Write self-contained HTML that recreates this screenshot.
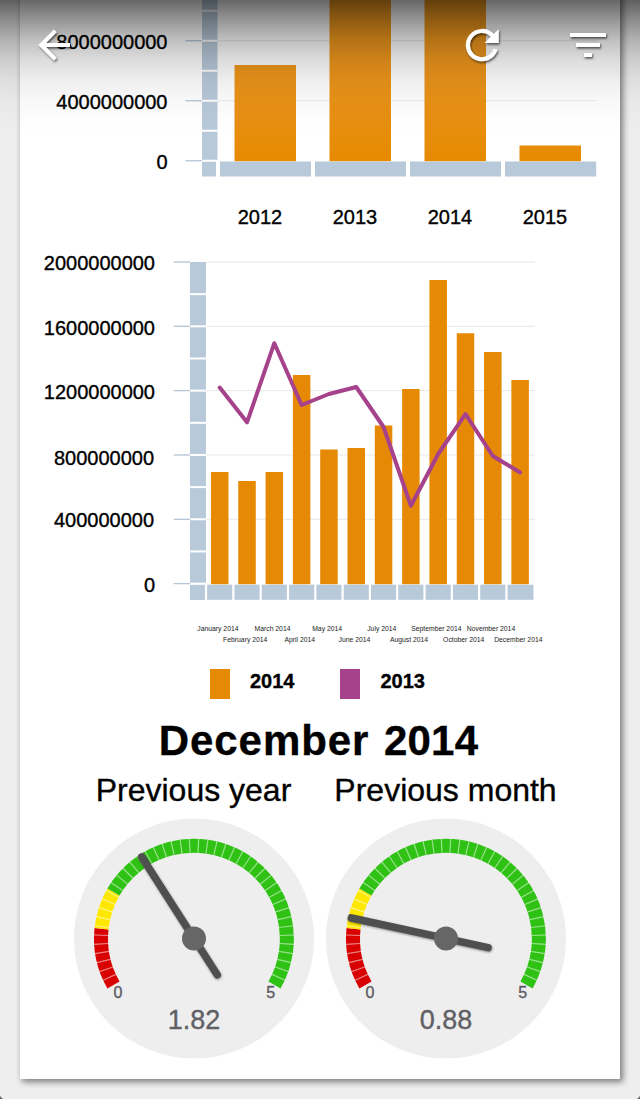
<!DOCTYPE html>
<html><head><meta charset="utf-8"><title>Dashboard</title>
<style>
html,body{margin:0;padding:0;}
body{width:640px;height:1099px;background:#eeeeee;overflow:hidden;position:relative;font-family:"Liberation Sans", sans-serif;}
.card{position:absolute;left:20px;top:-20px;width:600px;height:1099px;background:#fff;box-shadow:2.5px 2.5px 6px rgba(0,0,0,.48);border-radius:1px;}
svg{position:absolute;left:0;top:0;font-family:"Liberation Sans", sans-serif;}
svg text{stroke-width:0.35px;paint-order:stroke;}
svg text.k{stroke:#000;}
svg text.g{stroke:#5a5a60;}
.shade{position:absolute;left:0;top:0;width:640px;height:150px;background:linear-gradient(to bottom,rgba(0,0,0,.60) 0px,rgba(0,0,0,.41) 20px,rgba(0,0,0,.25) 40px,rgba(0,0,0,.137) 60px,rgba(0,0,0,.067) 80px,rgba(0,0,0,.027) 100px,rgba(0,0,0,.007) 120px,rgba(0,0,0,0) 136px);}
.cr{position:absolute;right:0;bottom:0;width:0;height:0;border-left:3px solid transparent;border-bottom:3px solid #6a6a6a;}
.cl{position:absolute;left:0;bottom:0;width:0;height:0;border-right:3px solid transparent;border-bottom:3px solid #6a6a6a;}
</style></head>
<body>
<div class="card"></div>
<svg width="640" height="1099" viewBox="0 0 640 1099">
<rect x="202" y="-5" width="15.5" height="164.75" fill="#b8c9da"/>
<rect x="202" y="9.75" width="15.5" height="2" fill="#fff"/>
<rect x="202" y="39.75" width="15.5" height="2" fill="#fff"/>
<rect x="202" y="69.75" width="15.5" height="2" fill="#fff"/>
<rect x="202" y="99.75" width="15.5" height="2" fill="#fff"/>
<rect x="202" y="129.75" width="15.5" height="2" fill="#fff"/>
<rect x="217" y="40.25" width="380" height="1" fill="#e7e7e7"/>
<rect x="217" y="100.25" width="380" height="1" fill="#e7e7e7"/>
<rect x="185.5" y="40.10" width="16.5" height="1.3" fill="#b4c5d6"/>
<rect x="185.5" y="100.10" width="16.5" height="1.3" fill="#b4c5d6"/>
<rect x="185.5" y="160.10" width="16.5" height="1.3" fill="#b4c5d6"/>
<rect x="202" y="161.75" width="14" height="14.75" fill="#b8c9da"/>
<rect x="220" y="161.5" width="91" height="15" fill="#b8c9da"/>
<rect x="315" y="161.5" width="91" height="15" fill="#b8c9da"/>
<rect x="410" y="161.5" width="91" height="15" fill="#b8c9da"/>
<rect x="505" y="161.5" width="91.2" height="15" fill="#b8c9da"/>
<defs><linearGradient id="bg1" gradientUnits="userSpaceOnUse" x1="0" y1="-5" x2="0" y2="161"><stop offset="0" stop-color="#f49c1e"/><stop offset="0.45" stop-color="#ee961c"/><stop offset="0.75" stop-color="#e88f12"/><stop offset="1" stop-color="#e68a00"/></linearGradient></defs>
<rect x="234.5" y="65" width="61.5" height="96.19999999999999" fill="url(#bg1)"/>
<rect x="329.5" y="-5" width="61.5" height="166.2" fill="url(#bg1)"/>
<rect x="424.5" y="-5" width="61.5" height="166.2" fill="url(#bg1)"/>
<rect x="519.5" y="145.5" width="61.5" height="15.699999999999989" fill="url(#bg1)"/>
<text x="167.5" y="49.2" text-anchor="end" font-size="20" fill="#000" class="k">8000000000</text>
<text x="167.5" y="108.7" text-anchor="end" font-size="20" fill="#000" class="k">4000000000</text>
<text x="167.5" y="169.2" text-anchor="end" font-size="20" fill="#000" class="k">0</text>
<text x="260" y="224" text-anchor="middle" font-size="20" fill="#000" class="k">2012</text>
<text x="355" y="224" text-anchor="middle" font-size="20" fill="#000" class="k">2013</text>
<text x="450" y="224" text-anchor="middle" font-size="20" fill="#000" class="k">2014</text>
<text x="545" y="224" text-anchor="middle" font-size="20" fill="#000" class="k">2015</text>
<rect x="190" y="262" width="16" height="338" fill="#b8c9da"/>
<rect x="190" y="293.16" width="16" height="2" fill="#fff"/>
<rect x="190" y="325.32" width="16" height="2" fill="#fff"/>
<rect x="190" y="357.48" width="16" height="2" fill="#fff"/>
<rect x="190" y="389.64" width="16" height="2" fill="#fff"/>
<rect x="190" y="421.80" width="16" height="2" fill="#fff"/>
<rect x="190" y="453.96" width="16" height="2" fill="#fff"/>
<rect x="190" y="486.12" width="16" height="2" fill="#fff"/>
<rect x="190" y="518.28" width="16" height="2" fill="#fff"/>
<rect x="190" y="550.44" width="16" height="2" fill="#fff"/>
<rect x="190" y="582.60" width="16" height="2" fill="#fff"/>
<rect x="206" y="584.2" width="327.5" height="15.6" fill="#b8c9da"/>
<rect x="190" y="583" width="344" height="1.6" fill="#fff"/>
<rect x="204.95" y="583" width="2.2" height="18" fill="#fff"/>
<rect x="232.26" y="583" width="2.2" height="18" fill="#fff"/>
<rect x="259.57" y="583" width="2.2" height="18" fill="#fff"/>
<rect x="286.88" y="583" width="2.2" height="18" fill="#fff"/>
<rect x="314.19" y="583" width="2.2" height="18" fill="#fff"/>
<rect x="341.50" y="583" width="2.2" height="18" fill="#fff"/>
<rect x="368.81" y="583" width="2.2" height="18" fill="#fff"/>
<rect x="396.12" y="583" width="2.2" height="18" fill="#fff"/>
<rect x="423.43" y="583" width="2.2" height="18" fill="#fff"/>
<rect x="450.74" y="583" width="2.2" height="18" fill="#fff"/>
<rect x="478.05" y="583" width="2.2" height="18" fill="#fff"/>
<rect x="505.36" y="583" width="2.2" height="18" fill="#fff"/>
<rect x="206" y="518.78" width="329" height="1" fill="#e7e7e7"/>
<rect x="206" y="454.46" width="329" height="1" fill="#e7e7e7"/>
<rect x="206" y="390.14" width="329" height="1" fill="#e7e7e7"/>
<rect x="206" y="325.82" width="329" height="1" fill="#e7e7e7"/>
<rect x="206" y="261.50" width="329" height="1" fill="#e7e7e7"/>
<rect x="173.75" y="582.95" width="16.25" height="1.3" fill="#b4c5d6"/>
<rect x="173.75" y="518.63" width="16.25" height="1.3" fill="#b4c5d6"/>
<rect x="173.75" y="454.31" width="16.25" height="1.3" fill="#b4c5d6"/>
<rect x="173.75" y="389.99" width="16.25" height="1.3" fill="#b4c5d6"/>
<rect x="173.75" y="325.67" width="16.25" height="1.3" fill="#b4c5d6"/>
<rect x="173.75" y="261.35" width="16.25" height="1.3" fill="#b4c5d6"/>
<rect x="210.96" y="472" width="17.5" height="112.20" fill="#e68a06"/>
<rect x="238.27" y="481" width="17.5" height="103.20" fill="#e68a06"/>
<rect x="265.57" y="472" width="17.5" height="112.20" fill="#e68a06"/>
<rect x="292.88" y="375" width="17.5" height="209.20" fill="#e68a06"/>
<rect x="320.19" y="449.5" width="17.5" height="134.70" fill="#e68a06"/>
<rect x="347.50" y="448" width="17.5" height="136.20" fill="#e68a06"/>
<rect x="374.81" y="425.5" width="17.5" height="158.70" fill="#e68a06"/>
<rect x="402.12" y="389" width="17.5" height="195.20" fill="#e68a06"/>
<rect x="429.44" y="280" width="17.5" height="304.20" fill="#e68a06"/>
<rect x="456.75" y="333.25" width="17.5" height="250.95" fill="#e68a06"/>
<rect x="484.06" y="352" width="17.5" height="232.20" fill="#e68a06"/>
<rect x="511.37" y="380" width="17.5" height="204.20" fill="#e68a06"/>
<polyline points="219.71,387.5 247.02,422.3 274.32,343.2 301.63,405 328.94,394 356.25,387 383.56,427 410.88,505.8 438.19,454 465.50,414.2 492.81,456 520.12,472.5" fill="none" stroke="#a5428b" stroke-width="4" stroke-linejoin="round" stroke-linecap="round"/>
<text x="155" y="591.90" text-anchor="end" font-size="20" fill="#000" class="k">0</text>
<text x="154" y="527.38" text-anchor="end" font-size="20" fill="#000" class="k">400000000</text>
<text x="154" y="464.56" text-anchor="end" font-size="20" fill="#000" class="k">800000000</text>
<text x="155" y="398.94" text-anchor="end" font-size="20" fill="#000" class="k">1200000000</text>
<text x="155" y="334.62" text-anchor="end" font-size="20" fill="#000" class="k">1600000000</text>
<text x="155" y="270.30" text-anchor="end" font-size="20" fill="#000" class="k">2000000000</text>
<text x="217.91" y="630.5" text-anchor="middle" font-size="6.8" fill="#222">January 2014</text>
<text x="245.22" y="641.75" text-anchor="middle" font-size="6.8" fill="#222">February 2014</text>
<text x="272.52" y="630.5" text-anchor="middle" font-size="6.8" fill="#222">March 2014</text>
<text x="299.83" y="641.75" text-anchor="middle" font-size="6.8" fill="#222">April 2014</text>
<text x="327.14" y="630.5" text-anchor="middle" font-size="6.8" fill="#222">May 2014</text>
<text x="354.45" y="641.75" text-anchor="middle" font-size="6.8" fill="#222">June 2014</text>
<text x="381.76" y="630.5" text-anchor="middle" font-size="6.8" fill="#222">July 2014</text>
<text x="409.07" y="641.75" text-anchor="middle" font-size="6.8" fill="#222">August 2014</text>
<text x="436.38" y="630.5" text-anchor="middle" font-size="6.8" fill="#222">September 2014</text>
<text x="463.69" y="641.75" text-anchor="middle" font-size="6.8" fill="#222">October 2014</text>
<text x="491.00" y="630.5" text-anchor="middle" font-size="6.8" fill="#222">November 2014</text>
<text x="518.32" y="641.75" text-anchor="middle" font-size="6.8" fill="#222">December 2014</text>
<rect x="210" y="669" width="20" height="30" fill="#e68a06"/>
<text x="250" y="688" font-size="20" font-weight="bold" fill="#000" class="k">2014</text>
<rect x="340" y="669" width="20" height="30" fill="#a5428b"/>
<text x="380.5" y="688" font-size="20" font-weight="bold" fill="#000" class="k">2013</text>
<text x="158.7" y="754.5" font-size="42" letter-spacing="0.95" font-weight="bold" fill="#000" class="k">December</text>
<text x="384" y="754.5" font-size="42" letter-spacing="0.2" font-weight="bold" fill="#000" class="k">2014</text>
<text x="193.5" y="800.5" text-anchor="middle" font-size="32" fill="#000" class="k">Previous year</text>
<text x="445.5" y="800.5" text-anchor="middle" font-size="32" fill="#000" class="k">Previous month</text>
<defs><filter id="nsh" x="-20%" y="-20%" width="140%" height="140%"><feDropShadow dx="0.5" dy="1" stdDeviation="1" flood-color="#000" flood-opacity="0.4"/></filter></defs>
<circle cx="194" cy="938.5" r="120" fill="#eeeeee"/>
<path d="M113.46,985.00 A93,93 0 0 1 101.51,928.78" fill="none" stroke="#d80000" stroke-width="14"/>
<path d="M101.51,928.78 A93,93 0 0 1 113.46,892.00" fill="none" stroke="#ffe800" stroke-width="14"/>
<path d="M113.46,892.00 A93,93 0 0 1 274.54,985.00" fill="none" stroke="#2fc214" stroke-width="14"/>
<path d="M125.84,969.80L97.67,982.74M123.23,963.33L93.98,973.59M121.23,956.64L91.15,964.14M119.86,949.80L89.21,954.47M119.13,942.86L88.18,944.66M119.05,935.88L88.06,934.80M119.61,928.93L88.87,924.97M120.83,922.05L90.58,915.26M122.67,915.32L93.19,905.74M125.13,908.79L96.67,896.52M128.19,902.52L100.99,887.65M131.82,896.56L106.12,879.23M135.99,890.96L112.01,871.31M140.66,885.78L118.61,863.98M145.79,881.05L125.86,857.30M151.34,876.81L133.71,851.32M157.26,873.12L142.07,846.09M163.49,869.98L150.89,841.66M170.00,867.45L160.07,838.08M176.70,865.52L169.55,835.36M183.56,864.23L179.25,833.53M190.51,863.58L189.07,832.61M197.49,863.58L198.93,832.61M204.44,864.23L208.75,833.53M211.30,865.52L218.45,835.36M218.00,867.45L227.93,838.08M224.51,869.98L237.11,841.66M230.74,873.12L245.93,846.09M236.66,876.81L254.29,851.32M242.21,881.05L262.14,857.30M247.34,885.78L269.39,863.98M252.01,890.96L275.99,871.31M256.18,896.56L281.88,879.23M259.81,902.52L287.01,887.65M262.87,908.79L291.33,896.52M265.33,915.32L294.81,905.74M267.17,922.05L297.42,915.26M268.39,928.93L299.13,924.97M268.95,935.88L299.94,934.80M268.87,942.86L299.82,944.66M268.14,949.80L298.79,954.47M266.77,956.64L296.85,964.14M264.77,963.33L294.02,973.59M262.16,969.80L290.33,982.74" stroke="#fff" stroke-opacity="0.16" stroke-width="1.1" fill="none"/>
<path d="M115.85,974.39L103.12,980.23M112.85,966.97L99.64,971.61M110.55,959.31L96.97,962.69M108.98,951.46L95.14,953.57M108.15,943.50L94.17,944.31M108.05,935.50L94.06,935.01M108.70,927.52L94.82,925.74M110.09,919.64L96.43,916.57M112.21,911.92L98.89,907.60M115.03,904.44L102.18,898.89M118.54,897.24L106.26,890.53M122.70,890.41L111.10,882.58M127.48,883.99L116.65,875.12M132.84,878.04L122.88,868.20M138.72,872.62L129.72,861.90M145.08,867.77L137.12,856.25M151.87,863.53L145.01,851.32M159.02,859.94L153.33,847.15M166.47,857.02L161.99,843.76M174.17,854.82L170.94,841.20M182.03,853.34L180.08,839.47M190.00,852.59L189.35,838.61M198.00,852.59L198.65,838.61M205.97,853.34L207.92,839.47M213.83,854.82L217.06,841.20M221.53,857.02L226.01,843.76M228.98,859.94L234.67,847.15M236.13,863.53L242.99,851.32M242.92,867.77L250.88,856.25M249.28,872.62L258.28,861.90M255.16,878.04L265.12,868.20M260.52,883.99L271.35,875.12M265.30,890.41L276.90,882.58M269.46,897.24L281.74,890.53M272.97,904.44L285.82,898.89M275.79,911.92L289.11,907.60M277.91,919.64L291.57,916.57M279.30,927.52L293.18,925.74M279.95,935.50L293.94,935.01M279.85,943.50L293.83,944.31M279.02,951.46L292.86,953.57M277.45,959.31L291.03,962.69M275.15,966.97L288.36,971.61M272.15,974.39L284.88,980.23" stroke="#fff" stroke-opacity="0.42" stroke-width="1.2" fill="none"/>
<text x="118" y="998.0" text-anchor="middle" font-size="16" fill="#5a5a60" class="g">0</text>
<text x="270.7" y="998.0" text-anchor="middle" font-size="16" fill="#5a5a60" class="g">5</text>
<text x="194" y="1029.0" text-anchor="middle" font-size="27" fill="#606064" class="g">1.82</text>
<g filter="url(#nsh)"><line x1="217.19" y1="974.71" x2="141.79" y2="856.99" stroke="#505050" stroke-width="7.6" stroke-linecap="round"/></g>
<circle cx="194" cy="938.5" r="12" fill="#666666"/>
<circle cx="446" cy="938.5" r="120" fill="#eeeeee"/>
<path d="M365.46,985.00 A93,93 0 0 1 353.51,928.78" fill="none" stroke="#d80000" stroke-width="14"/>
<path d="M353.51,928.78 A93,93 0 0 1 365.46,892.00" fill="none" stroke="#ffe800" stroke-width="14"/>
<path d="M365.46,892.00 A93,93 0 0 1 526.54,985.00" fill="none" stroke="#2fc214" stroke-width="14"/>
<path d="M377.84,969.80L349.67,982.74M375.23,963.33L345.98,973.59M373.23,956.64L343.15,964.14M371.86,949.80L341.21,954.47M371.13,942.86L340.18,944.66M371.05,935.88L340.06,934.80M371.61,928.93L340.87,924.97M372.83,922.05L342.58,915.26M374.67,915.32L345.19,905.74M377.13,908.79L348.67,896.52M380.19,902.52L352.99,887.65M383.82,896.56L358.12,879.23M387.99,890.96L364.01,871.31M392.66,885.78L370.61,863.98M397.79,881.05L377.86,857.30M403.34,876.81L385.71,851.32M409.26,873.12L394.07,846.09M415.49,869.98L402.89,841.66M422.00,867.45L412.07,838.08M428.70,865.52L421.55,835.36M435.56,864.23L431.25,833.53M442.51,863.58L441.07,832.61M449.49,863.58L450.93,832.61M456.44,864.23L460.75,833.53M463.30,865.52L470.45,835.36M470.00,867.45L479.93,838.08M476.51,869.98L489.11,841.66M482.74,873.12L497.93,846.09M488.66,876.81L506.29,851.32M494.21,881.05L514.14,857.30M499.34,885.78L521.39,863.98M504.01,890.96L527.99,871.31M508.18,896.56L533.88,879.23M511.81,902.52L539.01,887.65M514.87,908.79L543.33,896.52M517.33,915.32L546.81,905.74M519.17,922.05L549.42,915.26M520.39,928.93L551.13,924.97M520.95,935.88L551.94,934.80M520.87,942.86L551.82,944.66M520.14,949.80L550.79,954.47M518.77,956.64L548.85,964.14M516.77,963.33L546.02,973.59M514.16,969.80L542.33,982.74" stroke="#fff" stroke-opacity="0.16" stroke-width="1.1" fill="none"/>
<path d="M367.85,974.39L355.12,980.23M364.85,966.97L351.64,971.61M362.55,959.31L348.97,962.69M360.98,951.46L347.14,953.57M360.15,943.50L346.17,944.31M360.05,935.50L346.06,935.01M360.70,927.52L346.82,925.74M362.09,919.64L348.43,916.57M364.21,911.92L350.89,907.60M367.03,904.44L354.18,898.89M370.54,897.24L358.26,890.53M374.70,890.41L363.10,882.58M379.48,883.99L368.65,875.12M384.84,878.04L374.88,868.20M390.72,872.62L381.72,861.90M397.08,867.77L389.12,856.25M403.87,863.53L397.01,851.32M411.02,859.94L405.33,847.15M418.47,857.02L413.99,843.76M426.17,854.82L422.94,841.20M434.03,853.34L432.08,839.47M442.00,852.59L441.35,838.61M450.00,852.59L450.65,838.61M457.97,853.34L459.92,839.47M465.83,854.82L469.06,841.20M473.53,857.02L478.01,843.76M480.98,859.94L486.67,847.15M488.13,863.53L494.99,851.32M494.92,867.77L502.88,856.25M501.28,872.62L510.28,861.90M507.16,878.04L517.12,868.20M512.52,883.99L523.35,875.12M517.30,890.41L528.90,882.58M521.46,897.24L533.74,890.53M524.97,904.44L537.82,898.89M527.79,911.92L541.11,907.60M529.91,919.64L543.57,916.57M531.30,927.52L545.18,925.74M531.95,935.50L545.94,935.01M531.85,943.50L545.83,944.31M531.02,951.46L544.86,953.57M529.45,959.31L543.03,962.69M527.15,966.97L540.36,971.61M524.15,974.39L536.88,980.23" stroke="#fff" stroke-opacity="0.42" stroke-width="1.2" fill="none"/>
<text x="370" y="998.0" text-anchor="middle" font-size="16" fill="#5a5a60" class="g">0</text>
<text x="522.7" y="998.0" text-anchor="middle" font-size="16" fill="#5a5a60" class="g">5</text>
<text x="446" y="1029.0" text-anchor="middle" font-size="27" fill="#606064" class="g">0.88</text>
<g filter="url(#nsh)"><line x1="488.02" y1="947.62" x2="351.40" y2="917.98" stroke="#505050" stroke-width="7.6" stroke-linecap="round"/></g>
<circle cx="446" cy="938.5" r="12" fill="#666666"/>
</svg>
<div class="shade"></div>
<div class="cr"></div><div class="cl"></div>
<svg width="640" height="80" viewBox="0 0 640 80">

<defs><filter id="ish" x="-30%" y="-30%" width="160%" height="160%"><feDropShadow dx="1" dy="1.5" stdDeviation="1.2" flood-color="#000" flood-opacity="0.65"/></filter></defs>
<g filter="url(#ish)" fill="none" stroke="#fff">
<path d="M55.3,30.9 L41.2,45 L55.3,59.1 M41,45 L70,45" stroke-width="3.9" stroke-linejoin="miter"/>
</g>
<g filter="url(#ish)">
<path d="M492.8,36.0 A14.1,14.1 0 1 0 495.55,49.0" fill="none" stroke="#fff" stroke-width="4.2"/>
<path d="M498.7,29.3 L498.7,43.1 L484.4,43.1 Z" fill="#fff"/>
</g>
<g filter="url(#ish)" fill="#fff">
<rect x="570" y="33" width="36" height="4"/>
<rect x="576" y="43" width="24" height="4"/>
<rect x="584" y="53" width="8" height="4"/>
</g>

</svg>
</body></html>
